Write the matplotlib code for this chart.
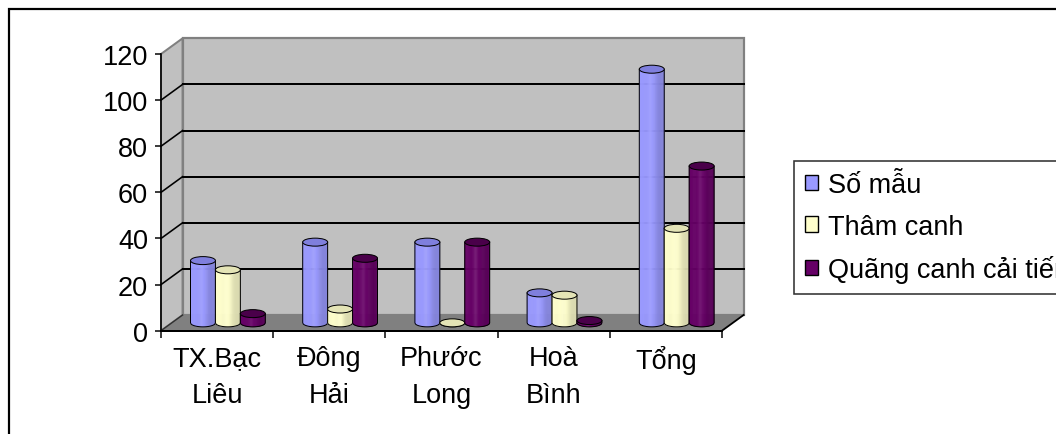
import numpy as np
import matplotlib
matplotlib.use("Agg")
import matplotlib.pyplot as plt
from matplotlib.patches import Polygon, Ellipse, Patch, Rectangle
from matplotlib.lines import Line2D
import matplotlib.colors as mcolors

plt.rcParams['font.family'] = ['Liberation Sans', 'DejaVu Sans']

# ---- data ----
categories = ["TX.Bạc\nLiêu", "Đông\nHải", "Phước\nLong", "Hoà\nBình", "Tổng"]
series_names = ["Số mẫu", "Thâm canh", "Quãng canh cải tiến"]
so_mau = [27, 35, 35, 13, 110]
tham_canh = [23, 6, 0, 12, 41]
quang_canh = [4, 28, 35, 1, 68]
y_ticks = [0, 20, 40, 60, 80, 100, 120]

series = [so_mau, tham_canh, quang_canh]
side_colors = ["#9999FF", "#FFFFCC", "#660066"]
top_colors = ["#7F7FDD", "#E4E4B6", "#4A004A"]

W, H = 1056, 435
fig = plt.figure(figsize=(W / 100, H / 100), dpi=100)

# axes = front plane of the 3D box
x0p, x1p, y0p, y1p = 161, 722, 331.7, 55.0
ax = fig.add_axes([x0p / W, 1 - y0p / H, (x1p - x0p) / W, (y0p - y1p) / H])
ncat = len(categories)
ymax = 120
ax.set_xlim(0, ncat)
ax.set_ylim(0, ymax)
ax.patch.set_visible(False)

px_per_cat = (x1p - x0p) / ncat
px_per_val = (y0p - y1p) / ymax
DX = 21.6 / px_per_cat      # depth offset in category units
DY = 15.7 / px_per_val      # depth offset in value units

gray_edge = "#808080"
lw_px = 100 / 72.0

# side wall
ax.add_patch(Polygon([(0, 0), (DX, DY), (DX, ymax + DY), (0, ymax)], closed=True,
                     facecolor="#C0C0C0", edgecolor=gray_edge, lw=2 / lw_px,
                     zorder=0, clip_on=False))
# back wall
ax.add_patch(Polygon([(DX, DY), (ncat + DX, DY), (ncat + DX, ymax + DY), (DX, ymax + DY)],
                     closed=True, facecolor="#C0C0C0", edgecolor=gray_edge,
                     lw=2.2 / lw_px, zorder=0.5, clip_on=False))
# gridlines on back + side wall
for v in y_ticks[1:-1]:
    ax.add_line(Line2D([DX, ncat + DX], [v + DY, v + DY], color="black",
                       lw=2 / lw_px, zorder=1, clip_on=False))
    ax.add_line(Line2D([0, DX], [v, v + DY], color="black",
                       lw=1.6 / lw_px, zorder=1, clip_on=False))
# floor
ax.add_patch(Polygon([(0, 0), (ncat, 0), (ncat + DX, DY), (DX, DY)], closed=True,
                     facecolor="#808080", edgecolor="none", zorder=1.5, clip_on=False))
ax.add_line(Line2D([ncat, ncat + DX], [0, DY], color="black", lw=1.8 / lw_px,
                   zorder=1.6, clip_on=False))
ax.add_line(Line2D([0, DX], [0, DY], color="#303030", lw=1.4 / lw_px,
                   zorder=1.6, clip_on=False))


def shade(color, f):
    r, g, b = mcolors.to_rgb(color)
    if f >= 1:
        return (r + (1 - r) * (f - 1), g + (1 - g) * (f - 1), b + (1 - b) * (f - 1))
    return (r * f, g * f, b * f)


def cylinder(cx, val, w, side, top, z):
    d = 0.5
    xc = cx + d * DX
    yb = d * DY
    yt = val + d * DY
    eh = 8.0 / px_per_val
    a = w / 2
    n = 28
    edges = np.linspace(xc - a, xc + a, n + 1)
    for k in range(n):
        xa, xb = edges[k], edges[k + 1]
        t = ((xa + xb) / 2 - (xc - a)) / w
        f = 1.0 + 0.08 * np.exp(-((t - 0.45) / 0.08) ** 2) - 0.14 / (1 + np.exp(-(t - 0.68) / 0.05))
        xs = np.linspace(xa, xb, 4)
        ys = yb - (eh / 2) * np.sqrt(np.clip(1 - ((xs - xc) / a) ** 2, 0, 1))
        pts = [(xa, yt)] + list(zip(xs, ys)) + [(xb, yt)]
        c = shade(side, f)
        ax.add_patch(Polygon(pts, closed=True, facecolor=c, edgecolor=c, lw=0.4,
                             zorder=z, clip_on=False))
    xs = np.linspace(xc - a, xc + a, 40)
    ys = yb - (eh / 2) * np.sqrt(np.clip(1 - ((xs - xc) / a) ** 2, 0, 1))
    ox = [xc - a] + list(xs) + [xc + a]
    oy = [yt] + list(ys) + [yt]
    ax.add_line(Line2D(ox, oy, color="black", lw=1.0 / lw_px, zorder=z + 0.1,
                       clip_on=False))
    ax.add_patch(Ellipse((xc, yt), w, eh, facecolor=top, edgecolor="black",
                         lw=1.0 / lw_px, zorder=z + 0.2, clip_on=False))


gap = 1.5
nser = len(series)
bw = 1.0 / (nser + gap)
z = 3
for i in range(ncat):
    for j, vals in enumerate(series):
        cx = i + (gap / 2 + j + 0.5) * bw
        cylinder(cx, vals[i], bw, side_colors[j], top_colors[j], z)
        z += 0.5

# axes / ticks
for s in ["top", "right"]:
    ax.spines[s].set_visible(False)
ax.spines["left"].set_linewidth(1.6 / lw_px)
ax.spines["bottom"].set_linewidth(2.0 / lw_px)
ax.spines["left"].set_zorder(2)
ax.spines["bottom"].set_zorder(2)

fs = 19.5
ax.set_yticks(y_ticks)
ax.set_yticklabels([str(v) for v in y_ticks])
ax.tick_params(axis="y", which="major", direction="out", length=6 / lw_px,
               width=1.5 / lw_px, pad=7 / lw_px, labelsize=fs)
ax.set_xticks(range(ncat + 1))
ax.set_xticklabels([])
ax.tick_params(axis="x", which="major", direction="out", length=7 / lw_px,
               width=1.5 / lw_px)
ax.set_xticks([i + 0.5 for i in range(ncat)], minor=True)
ax.set_xticklabels(categories, minor=True)
ax.tick_params(axis="x", which="minor", length=0, pad=14 / lw_px, labelsize=fs)
for lbl in ax.get_xticklabels(minor=True):
    lbl.set_linespacing(1.55)

# legend
handles = [Patch(facecolor=c, edgecolor="black", lw=1.0) for c in side_colors]
leg = fig.legend(handles, series_names, loc="upper left",
                 bbox_to_anchor=(794 / W, 1 - 162 / H), bbox_transform=fig.transFigure,
                 fontsize=fs, frameon=True, fancybox=False, shadow=False,
                 borderaxespad=0, borderpad=0.4, handlelength=0.5, handleheight=0.5,
                 handletextpad=0.35, labelspacing=0.58)
leg.get_frame().set_edgecolor("black")
leg.get_frame().set_linewidth(1.6 / lw_px)

# outer chart border
fig.add_artist(Rectangle((9 / W, -0.05), 1.1, 1 - 10 / H + 0.05, transform=fig.transFigure,
                         facecolor="none", edgecolor="black", lw=2.2 / lw_px))

fig.savefig("out.png", dpi=100)
